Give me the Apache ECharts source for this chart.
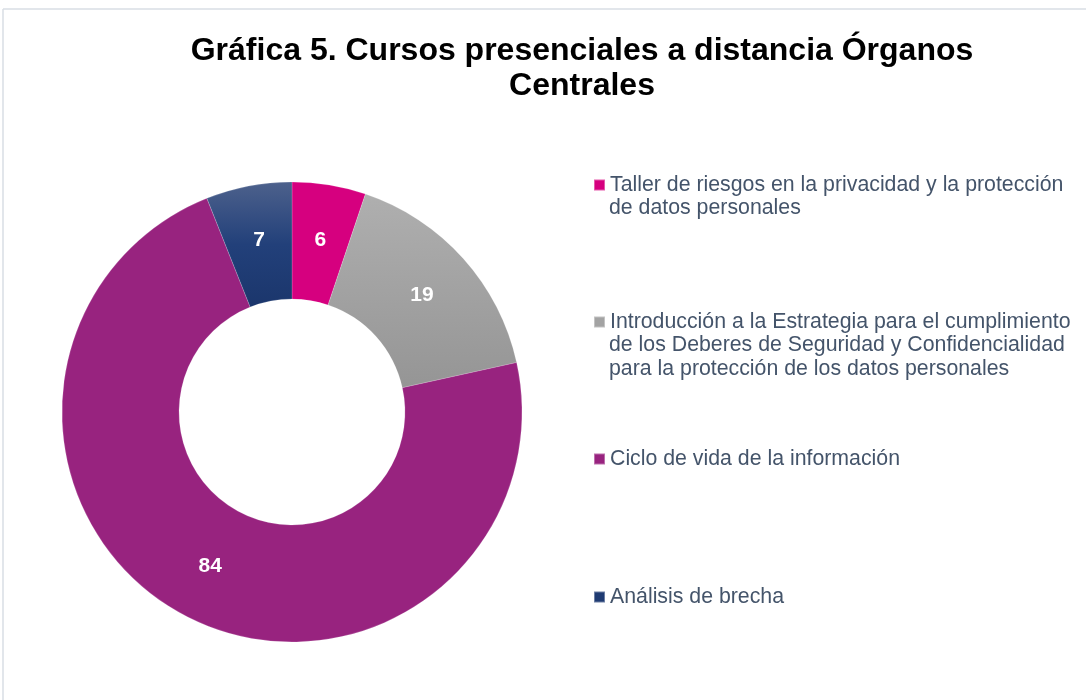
<!DOCTYPE html>
<html>
<head>
<meta charset="utf-8">
<script src="https://cdn.jsdelivr.net/npm/echarts@6/dist/echarts.min.js"></script>
<style>
  html, body { margin: 0; padding: 0; background: #fff; }
  #chart { width: 1086px; height: 700px; }
</style>
</head>
<body>
<div id="chart"></div>
<script>
// datos de la gráfica
const categories = [
  'Taller de riesgos en la privacidad y la protección\nde datos personales',
  'Introducción a la Estrategia para el cumplimiento\nde los Deberes de Seguridad y Confidencialidad\npara la protección de los datos personales',
  'Ciclo de vida de la información',
  'Análisis de brecha'
];
const values = [6, 19, 84, 7];
const titleText = 'Gráfica 5. Cursos presenciales a distancia Órganos\nCentrales';

const chart = echarts.init(document.getElementById('chart'));

const FONT = 'Liberation Sans, Arial, sans-serif';
const L = 23.5; // alto de línea de la leyenda
const colors = [
  '#d6007f',
  new echarts.graphic.LinearGradient(0, 0, 0, 1, [
    { offset: 0, color: '#afafaf' }, { offset: 1, color: '#959595' }
  ]),
  '#98237f',
  new echarts.graphic.LinearGradient(0, 0, 0, 1, [
    { offset: 0, color: '#4d618c' }, { offset: 0.5, color: '#22407a' }, { offset: 1, color: '#1b366c' }
  ])
];
const legendColors = ['#d6007f', '#a3a3a3', '#98237f', '#1f3b72'];
const legendCenters = [185, 322, 459, 597];

// una leyenda por elemento, solo primera línea; el resto va como texto
const legends = categories.map((name, i) => ({
  data: [{ name: name, itemStyle: { color: legendColors[i] } }],
  formatter: n => n.split('\n')[0],
  left: 593,
  top: legendCenters[i] - L / 2,
  padding: 0,
  icon: 'rect',
  itemWidth: 11,
  itemHeight: 11,
  itemGap: 0,
  selectedMode: false,
  textStyle: { fontFamily: FONT, fontSize: 21.3, lineHeight: L, color: '#44546a' }
}));

const extraLines = [];
categories.forEach((name, i) => {
  name.split('\n').slice(1).forEach((line, k) => {
    extraLines.push({
      type: 'text',
      x: 609,
      y: legendCenters[i] + (k + 1) * L,
      style: {
        text: line,
        fontFamily: FONT,
        fontSize: 21.3,
        fill: '#44546a',
        verticalAlign: 'middle'
      }
    });
  });
});

const option = {
  backgroundColor: '#fff',
  animation: false,
  legend: legends,
  graphic: [
    { type: 'line', shape: { x1: 3, y1: 9, x2: 1086, y2: 9 }, style: { stroke: '#d9dee4', lineWidth: 1.5 } },
    { type: 'line', shape: { x1: 3, y1: 9, x2: 3, y2: 700 }, style: { stroke: '#d9dee4', lineWidth: 1.5 } },
    {
      type: 'text',
      x: 582,
      y: 69,
      style: {
        text: titleText,
        align: 'center',
        verticalAlign: 'middle',
        fontFamily: FONT,
        fontSize: 32,
        fontWeight: 'bold',
        lineHeight: 35,
        fill: '#000'
      }
    }
  ].concat(extraLines),
  series: [
    {
      type: 'pie',
      center: [292, 412],
      radius: [113, 230],
      startAngle: 90,
      clockwise: true,
      avoidLabelOverlap: false,
      label: {
        show: true,
        position: 'inside',
        formatter: '{c}',
        color: '#fff',
        fontFamily: FONT,
        fontSize: 21,
        fontWeight: 'bold'
      },
      labelLine: { show: false },
      itemStyle: { borderColor: 'rgba(255,255,255,0.35)', borderWidth: 0.5 },
      emphasis: { disabled: true },
      data: categories.map((name, i) => ({
        name: name,
        value: values[i],
        itemStyle: { color: colors[i] }
      }))
    }
  ]
};

chart.setOption(option);
</script>
</body>
</html>
